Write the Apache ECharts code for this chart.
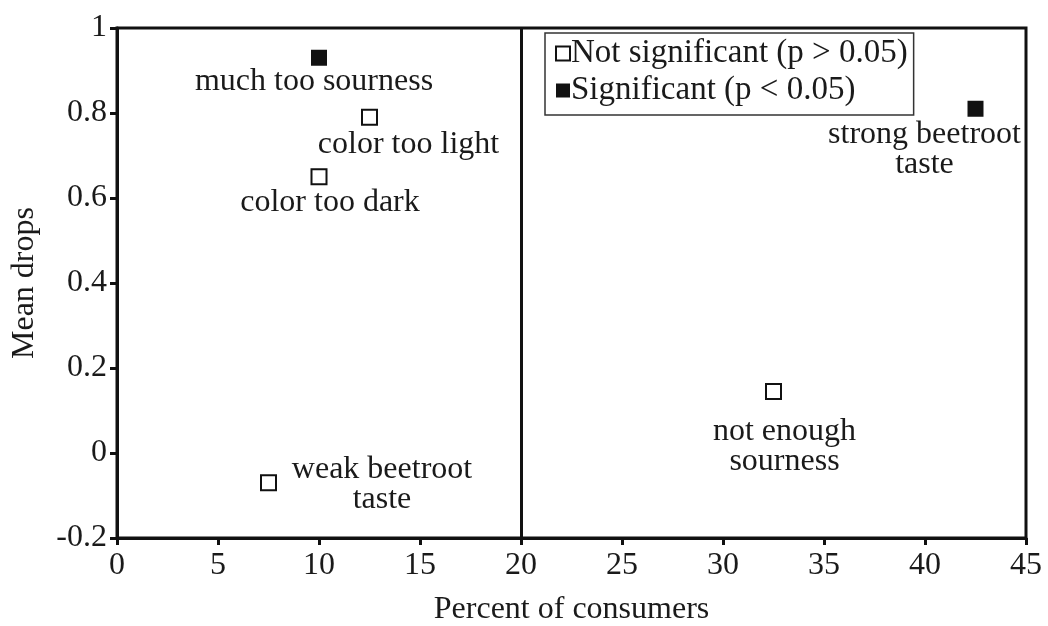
<!DOCTYPE html>
<html>
<head>
<meta charset="utf-8">
<script src="https://cdn.jsdelivr.net/npm/echarts@6/dist/echarts.min.js"></script>
<style>
html,body{margin:0;padding:0;background:#fff;}
#chart{width:1048px;height:626px;}
</style>
</head>
<body>
<div id="chart"></div>
<script>
// ---- data ----
var notSigNames = ['color too light', 'color too dark', 'weak beetroot\ntaste', 'not enough\nsourness'];
var notSigX = [12.5, 10, 7.5, 32.5];
var notSigY = [0.79, 0.65, -0.07, 0.145];

var sigNames = ['much too sourness', 'strong beetroot\ntaste'];
var sigX = [10, 42.5];
var sigY = [0.93, 0.81];

var xTicks = [0, 5, 10, 15, 20, 25, 30, 35, 40, 45];
var yTicks = [-0.2, 0, 0.2, 0.4, 0.6, 0.8, 1];
var dividerX = 20;

var seriesNames = ['Not significant (p > 0.05)', 'Significant (p < 0.05)'];

// ---- label placement (style, not data) ----
var labelPlace = {
  'color too light': {position: 'bottom', offset: [39, -2]},
  'color too dark': {position: 'bottom', offset: [11, -4]},
  'weak beetroot\ntaste': {position: 'right', offset: [99, 2]},
  'not enough\nsourness': {position: 'bottom', offset: [11, 11]},
  'much too sourness': {position: 'bottom', offset: [-5, -5]},
  'strong beetroot\ntaste': {position: 'bottom', offset: [-51, -3]}
};

var FONT = '"Liberation Serif", "DejaVu Serif", serif';
var TXT = '#1a1a1a';

function build(names, xs, ys) {
  return names.map(function (n, i) {
    var p = labelPlace[n];
    return {
      value: [xs[i], ys[i]],
      name: n,
      label: {
        show: true,
        formatter: n,
        position: p.position,
        offset: p.offset,
        distance: 6,
        align: 'center',
        fontFamily: FONT,
        fontSize: 32,
        lineHeight: 30,
        color: TXT
      }
    };
  });
}

var chart = echarts.init(document.getElementById('chart'), null, {renderer: 'canvas'});

var axisCommon = {
  axisLine: {show: true, onZero: false, lineStyle: {color: '#111', width: 3}},
  axisTick: {show: true, inside: false, length: 7, lineStyle: {color: '#111', width: 3}},
  splitLine: {show: false},
  axisLabel: {fontFamily: FONT, fontSize: 32, color: TXT},
  nameTextStyle: {fontFamily: FONT, fontSize: 32, color: TXT},
  nameLocation: 'middle'
};

chart.setOption({
  backgroundColor: '#fff',
  animation: false,
  grid: {
    left: 117, right: 22, top: 28, bottom: 88,
    containLabel: false,
    outerBoundsMode: 'none',
    show: true, borderColor: '#111', borderWidth: 3, backgroundColor: 'transparent'
  },
  legend: {
    orient: 'vertical',
    left: 545, top: 33,
    padding: [4, 6, 8, 10],
    itemWidth: 14, itemHeight: 14, itemGap: 4,
    borderColor: '#333', borderWidth: 1.5,
    icon: 'rect',
    textStyle: {fontFamily: FONT, fontSize: 33, color: TXT, padding: [0, 0, 0, -4]},
    data: seriesNames
  },
  xAxis: Object.assign({}, axisCommon, {
    type: 'value',
    min: xTicks[0], max: xTicks[xTicks.length - 1], interval: xTicks[1] - xTicks[0],
    name: 'Percent of consumers',
    nameGap: 56,
    axisLabel: Object.assign({}, axisCommon.axisLabel, {margin: 12})
  }),
  yAxis: Object.assign({}, axisCommon, {
    type: 'value',
    min: yTicks[0], max: yTicks[yTicks.length - 1], interval: 0.2,
    name: 'Mean drops',
    nameGap: 76,
    axisLabel: Object.assign({}, axisCommon.axisLabel, {
      margin: 10,
      formatter: function (v) { return String(Math.round(v * 10) / 10); }
    })
  }),
  series: [
    {
      name: seriesNames[0],
      type: 'scatter',
      symbol: 'rect',
      symbolSize: 15,
      itemStyle: {color: '#fff', borderColor: '#111', borderWidth: 2, opacity: 1},
      data: build(notSigNames, notSigX, notSigY),
      markLine: {
        silent: true,
        symbol: 'none',
        label: {show: false},
        lineStyle: {color: '#111', width: 3, type: 'solid'},
        data: [{xAxis: dividerX}]
      },
      z: 3
    },
    {
      name: seriesNames[1],
      type: 'scatter',
      symbol: 'rect',
      symbolSize: 16,
      itemStyle: {color: '#111', borderColor: '#111', borderWidth: 0, opacity: 1},
      data: build(sigNames, sigX, sigY),
      z: 3
    }
  ]
});
</script>
</body>
</html>
